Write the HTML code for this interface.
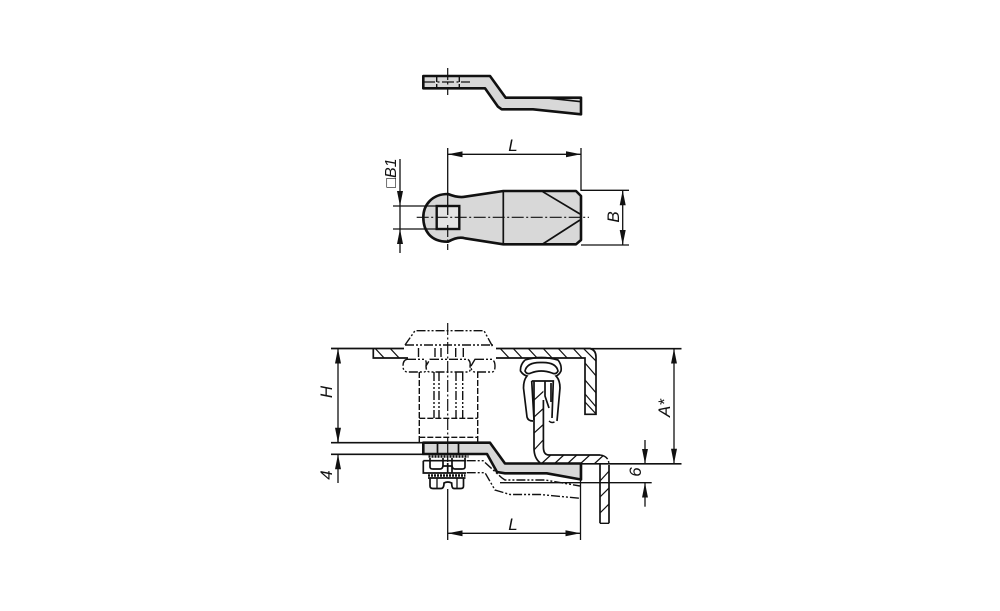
<!DOCTYPE html>
<html><head><meta charset="utf-8"><style>
html,body{margin:0;padding:0;background:#fff}
svg{display:block}
text{font-family:"Liberation Sans",sans-serif;font-style:italic;font-size:17px;fill:#111}
.t{fill:none;stroke:#111;stroke-width:1.3}
.m{fill:none;stroke:#111;stroke-width:1.7}
.k{stroke:#111;stroke-width:2.6;fill:#d8d8d8;stroke-linejoin:round}
.c{fill:none;stroke:#111;stroke-width:1.2;stroke-dasharray:12 2.5 2 2.5}
.d{fill:none;stroke:#111;stroke-width:1.4;stroke-dasharray:9 2 2 2 2 2}
.l{fill:none;stroke:#111;stroke-width:1.4;stroke-dasharray:6 2}
.h{fill:none;stroke:#111;stroke-width:1.2}
</style></head><body>
<svg width="1000" height="611" viewBox="0 0 1000 611" xmlns="http://www.w3.org/2000/svg">
<defs>
<marker id="a" markerWidth="15" markerHeight="8" refX="15" refY="4" orient="auto-start-reverse" markerUnits="userSpaceOnUse"><path d="M0 1L15 4L0 7Z" fill="#111"/></marker>
<clipPath id="p1"><path d="M373 348.7H404L410 358H373Z"/><path d="M496 348.7H590Q596 350 596 357V414H585V358H496Z"/></clipPath>
<clipPath id="p2"><path d="M534 381H543.4V447Q543.4 455 549 455H600Q609 455 609 465V523H600V464H540Q534 458 534 448Z"/></clipPath>
</defs>

<!-- TOP VIEW -->
<path class="k" d="M423.3 76H490L505.7 97.7H581V114.3L533 109.3H501.7L498 106.7L485 88.3H423.3Z"/>
<path class="m" d="M581 101.7L550 98.3"/>
<path class="l" d="M436.7 76V88M459.3 76V88"/>
<path class="c" d="M447.7 68V95M423 82H470"/>

<!-- PLAN VIEW -->
<path class="k" d="M503.3 191H576L581 196V240L576 244.3H503.3L465 238.3Q458 236 448 241.7C430 242 423.3 230 423.3 217.3C423.3 205 432 194 448 194Q458 198 465 196.7Z"/>
<path class="m" d="M503.3 191V244.3M542.7 191.7L580 214M542.7 244L580 220"/>
<rect x="436.7" y="206" width="22.6" height="23" fill="#e4e4e4" stroke="#111" stroke-width="2.4"/>
<path class="c" d="M416.7 217.3H589M447.7 225V250"/>
<path class="t" d="M447.7 148V215M581 148V191M581 190.3H629M581 245H629M393 206H436M393 229H436"/>
<path class="t" d="M447.7 154.3H581" marker-start="url(#a)" marker-end="url(#a)"/>
<path class="t" d="M622.7 190.3V245" marker-start="url(#a)" marker-end="url(#a)"/>
<path class="t" d="M400 159V206" marker-end="url(#a)"/>
<path class="t" d="M400 206V229"/>
<path class="t" d="M400 253V229" marker-end="url(#a)"/>
<text x="513" y="151" text-anchor="middle">L</text>
<text transform="translate(619,217) rotate(-90)" text-anchor="middle">B</text>
<text transform="translate(396,173) rotate(-90)" text-anchor="middle" style="font-size:16px">&#9633;B1</text>

<!-- PANEL -->
<path class="m" d="M331 348.5H404M496 348.5H590Q596 350 596 357V414.3H585V358H496M373.3 348.5V358H408"/>
<g clip-path="url(#p1)">
<path class="h" d="M372 345L386 360M387 345L401 360M497 345L511 360M510 345L524 360M525 345L539 360M540 345L554 360M555 345L569 360M570 345L584 360M580 345L597 362M585 363L597 377M585 380L597 394M585 394L597 408M585 402L597 415"/>
</g>
<path class="m" d="M590 348.7H681.5"/>

<!-- phantom nut -->
<path class="d" d="M405 345L415 330.7H484L492.7 346.7M405 345H493"/>
<path class="d" d="M418.5 348V358M435 348V358M455.7 348V358M463.3 348V358M441 348V358"/>
<path class="d" d="M407 359.3H424Q427 360 426 366Q427 372 424 372H408Q403 372 403 366Q403 360 407 359.3ZM430 359.3H468Q471 362 470 366Q471 372 468 372H430Q426 372 426 366ZM475 359.3H492Q495 361 495 366Q495 372 492 372H475Q471 372 471 366Z"/>
<path class="l" d="M419.3 372V442.7M477.7 372V442.7M419.3 418.3H477.7M419.3 437.3H477.7"/>
<path class="d" d="M434 372V418M439 372V418M456 372V418M462.7 372V418"/>
<path class="c" d="M447.7 323V462"/>

<!-- CLIP -->
<path class="m" d="M525 360Q541 355 558 360Q562 365 561 371Q559 375 556 376Q560 380 560 388L557 421M525 360Q520 365 520.5 371Q523 375 527 376Q523.5 380 523.5 388L527 417Q528 421 533 421"/>
<path class="m" d="M525 371Q527 362 541.5 362.5Q556 362 558 371Q556 375 552 373Q541 369 531 373Q527 375 525 371Z"/>
<path class="m" d="M531.7 381H553.3L552 418M531.7 381L534 420"/>
<path class="l" d="M549 421Q552 424 556 421"/>
<path class="m" d="M545 381V396L549 408M551 383V402"/>

<!-- HATCHED SHEET -->
<path class="m" d="M534 381V448Q534 458 540 462.7M543.4 400V447Q543.4 455 549 455H600M600 464V523.3M609 465V523.3"/>
<path class="d" d="M600 455Q609 456 609 465M600 523.3H609"/>
<g clip-path="url(#p2)">
<path class="h" d="M534 400L545 390M534 417L545 407M534 433L545 423M534 450L545 438M540 465L553 453M553 465L566 453M566 465L579 453M579 465L592 453M593 465L606 453M600 481L610 470M600 497L610 487M600 513L610 503"/>
</g>

<!-- LEVER -->
<path class="k" d="M423.3 442.7H490L505 463.5H581V479.5L546.7 473.3H505L497 472L487 454H423.3Z"/>
<path class="m" d="M437.5 442.7V454M458.5 442.7V454"/>
<path class="c" d="M447.7 444V454"/>

<!-- lower parts -->
<path class="m" d="M423.3 460.7H466M423.3 460.7V473H466"/>
<path class="t" d="M428.5 456.5H468.5" stroke-dasharray="2 1" style="stroke-width:2.4"/>
<path class="m" d="M430 458V467Q430 469 433 469H440Q443 469 443 465V458M452 458V465Q452 469 455 469H462Q465 469 465 467V458M443 466H452V473M447.7 463V473"/>
<path class="t" d="M428 475.5H465.5" stroke-dasharray="2 1" style="stroke-width:2.4"/>
<path class="m" d="M428 478H465.5"/>
<path class="m" d="M430 478V486Q430 488.5 433 488.5H441Q444 488.5 444 483Q447.7 481 451.7 483Q451.7 488.5 454 488.5H461Q463.5 488.5 463.5 486V478"/>
<path class="t" d="M437 478V488M457 478V488"/>

<!-- phantom lever -->
<path class="d" d="M466.7 460.7H483L502 478L505 480H545L580 486"/>
<path class="d" d="M466.7 472.7H485L495 490L510 494.5H540L580 498.3"/>

<!-- dimensions bottom -->
<path class="m" d="M331 442.7H423M331 454.3H423"/>
<path class="t" d="M338 348.5V442.7" marker-start="url(#a)" marker-end="url(#a)"/>
<path class="t" d="M338 483V454.3" marker-end="url(#a)"/>
<path class="t" d="M338 430V442.7"/>
<text transform="translate(332,392) rotate(-90)" text-anchor="middle">H</text>
<text transform="translate(332,475) rotate(-90)" text-anchor="middle">4</text>

<path class="t" d="M674 348.7V463.7" marker-start="url(#a)" marker-end="url(#a)"/>
<path class="m" d="M581 463.8H681.5"/>
<path class="t" d="M500 482.7H651.7"/>
<path class="t" d="M645 440V463.8" marker-end="url(#a)"/>
<path class="t" d="M645 506.7V482.7" marker-end="url(#a)"/>
<text transform="translate(670,408) rotate(-90)" text-anchor="middle">A*</text>
<text transform="translate(641,472) rotate(-90)" text-anchor="middle">6</text>

<path class="t" d="M447.7 489V540M580.5 464V540"/>
<path class="t" d="M447.7 533.3H580.5" marker-start="url(#a)" marker-end="url(#a)"/>
<text x="513" y="530" text-anchor="middle">L</text>
</svg>
</body></html>
